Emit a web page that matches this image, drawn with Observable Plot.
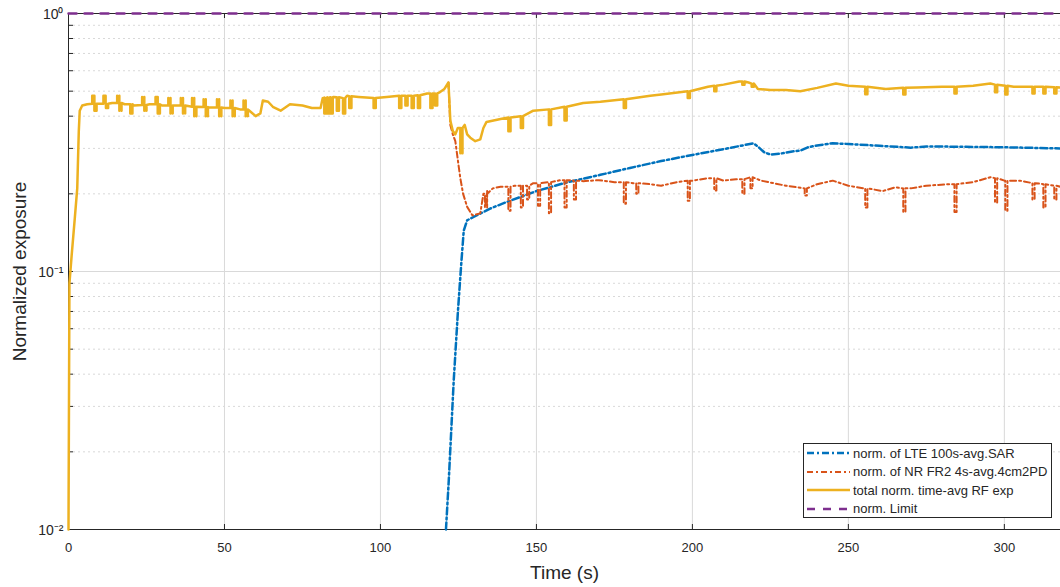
<!DOCTYPE html>
<html>
<head>
<meta charset="utf-8">
<script src="https://cdn.jsdelivr.net/npm/d3@7"></script>
<script src="https://cdn.jsdelivr.net/npm/@observablehq/plot@0.6"></script>
<style>
  html, body { margin: 0; padding: 0; background: #fff; }
  #wrap { position: relative; width: 1060px; height: 587px; overflow: hidden; }
  #legend { position: absolute; left: 803px; top: 443px; width: 249px; height: 75px;
    border: 1px solid #262626; background: #fff; font-family: "Liberation Sans", Arial, sans-serif;
    font-size: 13px; color: #262626; box-sizing: border-box; padding-top: 0px; }
  .row { display: flex; align-items: center; height: 18.5px; }
  .row svg { margin-left: 3px; margin-right: 3px; }
</style>
</head>
<body>
<div id="wrap"><div id="chart"></div><div id="legend"></div></div>
<script>
// ---- data ----
const xTicks = [0, 50, 100, 150, 200, 250, 300];
const xGrid = [50, 100, 150, 200, 250, 300];
const yTicks = [0.01, 0.1, 1];
const yTickLabels = ["10\u207B\u00B2", "10\u207B\u00B9", "10\u2070"];
const yMinor = [0.02,0.03,0.04,0.05,0.06,0.07,0.08,0.09,0.2,0.3,0.4,0.5,0.6,0.7,0.8,0.9];

// LTE 100s-avg SAR (normalized)
const lteSAR = [[121,0.010],[121.9,0.0155],[123.5,0.038],[124.8,0.069],[125.9,0.107],[126.7,0.144],[127.8,0.158],
  [130,0.163],[135,0.175],[140,0.185],[150,0.205],[160,0.222],[170.5,0.237],[180,0.252],[190,0.268],[200,0.283],
  [210,0.298],[219.6,0.314],[221,0.305],[223,0.29],[225,0.284],[228,0.286],[232,0.292],[234.6,0.294],[237,0.303],
  [240,0.308],[245,0.314],[250,0.312],[260,0.307],[270,0.302],[275,0.305],[280,0.305],[300,0.303],[318,0.30]];

// NR FR2 4s-avg 4cm2 PD (normalized): base points and [time, base, spike] events
const nrBase = [[121.8,0.54],[122.4,0.37],[123.2,0.34],[124,0.32],[125,0.26],[125.6,0.23],[126.5,0.20],[127.8,0.178],
  [129.5,0.165],[132,0.168],[133,0.20],[134.2,0.205],[136,0.21],[138.5,0.213],[143,0.215],[149,0.22],[157.7,0.226],
  [165,0.224],[170,0.226],[175,0.222],[181,0.22],[186.5,0.218],[190,0.215],[195,0.222],[200,0.225],[205,0.23],
  [210,0.225],[214,0.228],[218.6,0.232],[222,0.225],[230,0.215],[236,0.21],[240,0.218],[245,0.225],[250,0.215],
  [255,0.21],[261,0.205],[265,0.212],[270,0.21],[275,0.215],[282,0.218],[290,0.222],[295.5,0.232],[300,0.225],
  [305,0.225],[310,0.22],[318,0.213]];
const nrSpikes = [[133.5,0.20,0.177],[141,0.213,0.172],[145,0.215,0.177],[147,0.215,0.19],[150.5,0.22,0.18],
  [154,0.222,0.168],[159,0.226,0.177],[162,0.225,0.19],[178,0.222,0.183],[182,0.22,0.2],[198.5,0.225,0.188],
  [207,0.23,0.206],[216,0.228,0.20],[218.6,0.232,0.21],[236,0.21,0.197],[255.4,0.21,0.177],[267.6,0.21,0.17],
  [284,0.218,0.17],[297,0.23,0.185],[300.3,0.225,0.172],[309,0.22,0.19],[312.5,0.218,0.177],[316,0.215,0.19]];

// total normalized time-avg RF exposure: base points and [time, base, spike] events
const totalBase = [[0,0.010],[0.3,0.09],[1.0,0.115],[2.0,0.16],[2.8,0.21],[3.3,0.35],[3.6,0.42],[4.4,0.44],[6,0.445],
  [10,0.447],[14,0.45],[18,0.445],[21,0.44],[26,0.445],[30,0.44],[35,0.44],[40,0.435],[45,0.432],[50,0.43],[55,0.425],
  [58,0.42],[60,0.40],[61.5,0.41],[62.3,0.46],[64,0.455],[65.5,0.435],[68,0.42],[71,0.445],[75,0.44],[78,0.43],
  [80.8,0.43],[81.5,0.47],[85,0.475],[88,0.47],[89.3,0.48],[93,0.475],[97.8,0.47],[102,0.475],[106,0.48],[110,0.48],
  [115,0.49],[119,0.495],[120.5,0.51],[121.8,0.54],[122.4,0.385],[123.2,0.35],[124,0.34],[124.8,0.36],[126.2,0.36],
  [127,0.37],[127.8,0.34],[128.8,0.33],[130.4,0.32],[132,0.325],[133,0.36],[134,0.38],[138.5,0.39],[141,0.395],
  [145,0.40],[149,0.42],[154,0.425],[159,0.435],[165,0.45],[170.5,0.455],[178,0.465],[186.5,0.48],[190,0.485],
  [198.5,0.50],[205,0.52],[210,0.53],[215,0.545],[218,0.54],[221,0.51],[225,0.505],[230,0.505],[234.6,0.50],
  [240,0.515],[246,0.535],[250,0.525],[255.4,0.52],[262,0.51],[267.6,0.515],[272,0.517],[280,0.52],[284,0.52],
  [290,0.525],[295.5,0.535],[303,0.52],[310,0.52],[318,0.517]];
const totalSpikes = [[7.6,0.447,0.48],[8.3,0.447,0.42],[11.2,0.447,0.48],[12,0.447,0.43],[15.6,0.45,0.48],
  [16.3,0.45,0.42],[19.8,0.445,0.41],[23.6,0.442,0.475],[24.3,0.442,0.42],[27.9,0.445,0.475],[28.6,0.445,0.41],
  [32,0.44,0.47],[32.7,0.44,0.41],[36,0.44,0.47],[36.7,0.44,0.41],[39.6,0.435,0.47],[40.3,0.435,0.40],
  [43.3,0.434,0.465],[44,0.434,0.40],[47.6,0.432,0.465],[48.3,0.432,0.40],[51.9,0.43,0.46],[52.6,0.43,0.40],
  [56.1,0.425,0.46],[56.8,0.425,0.40],[82,0.472,0.41],[83,0.473,0.41],[84,0.474,0.41],[86,0.474,0.42],
  [88,0.47,0.41],[90,0.478,0.43],[97.8,0.47,0.43],[106,0.48,0.43],[108,0.48,0.44],[110,0.48,0.43],[112,0.482,0.43],
  [116,0.49,0.43],[117.5,0.49,0.44],[125.6,0.36,0.287],[141,0.395,0.35],[145,0.40,0.36],[154,0.425,0.37],
  [159,0.435,0.385],[178,0.465,0.43],[198.5,0.50,0.47],[207,0.525,0.50],[216,0.545,0.53],[219,0.535,0.52],
  [255.4,0.52,0.486],[267.6,0.515,0.485],[284,0.52,0.49],[297,0.53,0.495],[300.3,0.525,0.485],[309,0.52,0.49],
  [312.5,0.52,0.49],[316,0.518,0.49]];

const limit = [[0,1],[318,1]];

const seriesNames = ["norm. of LTE 100s-avg.SAR", "norm. of NR FR2 4s-avg.4cm2PD", "total norm. time-avg RF exp", "norm. Limit"];
const seriesColors = ["#0072BD", "#D95319", "#EDB120", "#7E2F8E"];
const seriesDash = ["7,3,2,3", "6,3,2,3", null, "8,8"];
const seriesWidth = [2.5, 2, 2.5, 2.5];

// ---- build series with spike pulses ----
function withSpikes(base, spikes) {
  const pts = base.map(([t, v]) => ({t, v, k: 0}));
  spikes.forEach(([t, b, s], i) => {
    pts.push({t: t, v: b, k: 1, i}, {t: t, v: s, k: 2, i}, {t: t + 0.7, v: s, k: 3, i}, {t: t + 0.7, v: b, k: 4, i});
  });
  pts.sort((a, b) => a.t - b.t || a.k - b.k);
  return pts;
}
const lteData = lteSAR.map(([t, v]) => ({t, v}));
const nrData = withSpikes(nrBase, nrSpikes);
const totalData = withSpikes(totalBase, totalSpikes);
const limitData = limit.map(([t, v]) => ({t, v}));

const W = 1060, H = 587, mL = 68, mT = 13, mB = 58, mR = 0;
const plotW = W - mL - mR, plotH = H - mT - mB;
const axisColor = "#262626";

const chart = Plot.plot({
  width: W, height: H,
  marginLeft: mL, marginTop: mT, marginBottom: mB, marginRight: mR,
  x: {domain: [0, 318], axis: null},
  y: {type: "log", domain: [0.01, 1], axis: null},
  style: {fontFamily: "'Liberation Sans', Arial, sans-serif", background: "#fff", overflow: "visible"},
  marks: [
    Plot.ruleY(yMinor, {y: d => d, stroke: "#cfcfcf", strokeDasharray: "2,3", strokeWidth: 0.8}),
    Plot.ruleX(xGrid, {x: d => d, stroke: "#d9d9d9", strokeWidth: 1}),
    Plot.ruleY([0.1], {y: d => d, stroke: "#d9d9d9", strokeWidth: 1}),
    // frame
    Plot.ruleX([0], {x: d => d, stroke: axisColor, strokeWidth: 1}),
    Plot.ruleY([0.01, 1], {y: d => d, stroke: axisColor, strokeWidth: 1}),
    // inward ticks
    Plot.ruleX(xTicks, {x: d => d, insetTop: plotH - 5, stroke: axisColor}),
    Plot.ruleX(xTicks, {x: d => d, insetBottom: plotH - 5, stroke: axisColor}),
    Plot.ruleY(yTicks.concat(yMinor), {y: d => d, insetRight: plotW - 5, stroke: axisColor}),
    // series
    Plot.line(lteData, {x: "t", y: "v", stroke: seriesColors[0], strokeWidth: seriesWidth[0], strokeDasharray: seriesDash[0]}),
    Plot.line(nrData, {x: "t", y: "v", stroke: seriesColors[1], strokeWidth: seriesWidth[1], strokeDasharray: seriesDash[1]}),
    Plot.line(totalData, {x: "t", y: "v", stroke: seriesColors[2], strokeWidth: seriesWidth[2]}),
    Plot.line(limitData, {x: "t", y: "v", stroke: seriesColors[3], strokeWidth: seriesWidth[3], strokeDasharray: seriesDash[3]}),
    // tick labels
    Plot.text(xTicks, {x: d => d, frameAnchor: "bottom", dy: 18, lineAnchor: "middle", text: d => String(d), fontSize: 13, fill: axisColor}),
    Plot.text(yTicks, {y: d => d, frameAnchor: "left", dx: -5, dy: 1, textAnchor: "end", lineAnchor: "middle", text: (d, i) => yTickLabels[i], fontSize: 14, fill: axisColor}),
    // axis titles
    Plot.text(["Time (s)"], {frameAnchor: "bottom", dy: 43, lineAnchor: "middle", text: d => d, fontSize: 19, fill: axisColor}),
    Plot.text(["Normalized exposure"], {frameAnchor: "left", dx: -49, rotate: -90, textAnchor: "middle", lineAnchor: "middle", text: d => d, fontSize: 19, fill: axisColor})
  ]
});
document.getElementById("chart").appendChild(chart);

// legend
const legend = d3.select("#legend");
seriesNames.forEach((name, i) => {
  const row = legend.append("div").attr("class", "row");
  const svg = row.append("svg").attr("width", 43).attr("height", 10);
  const ln = svg.append("line").attr("x1", 0).attr("x2", 43).attr("y1", 5).attr("y2", 5)
    .attr("stroke", seriesColors[i]).attr("stroke-width", seriesWidth[i]);
  if (seriesDash[i]) ln.attr("stroke-dasharray", seriesDash[i]);
  row.append("span").text(name);
});
</script>
</body>
</html>
